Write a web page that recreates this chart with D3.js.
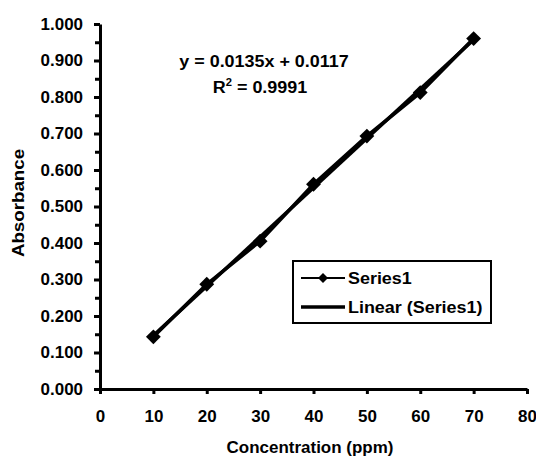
<!DOCTYPE html>
<html>
<head>
<meta charset="utf-8">
<script src="https://cdn.jsdelivr.net/npm/d3@7"></script>
<style>
  body { margin: 0; background: #fff; }
  text { font-family: "Liberation Sans", Arial, sans-serif; font-weight: bold; fill: #000; }
</style>
</head>
<body>
<div class="content"></div>
<script>
////////// data /////////
var concentration = [10, 20, 30, 40, 50, 60, 70];
var absorbance = [0.143, 0.287, 0.405, 0.561, 0.693, 0.812, 0.960];
var xTicks = [0, 10, 20, 30, 40, 50, 60, 70, 80];
var yTicks = [0, 0.1, 0.2, 0.3, 0.4, 0.5, 0.6, 0.7, 0.8, 0.9, 1.0];
var yMinorTicks = [0.05, 0.15, 0.25, 0.35, 0.45, 0.55, 0.65, 0.75, 0.85, 0.95];
var slope = 0.0135;
var intercept = 0.0117;
var rSquared = '0.9991';
var seriesNames = ['Series1', 'Linear (Series1)'];

// text in the picture is a bit wider than the font
function stretch(sel, k) {
  sel.each(function() {
    var w = this.getComputedTextLength();
    d3.select(this)
      .attr('textLength', w * k)
      .attr('lengthAdjust', 'spacingAndGlyphs');
  });
}

var svg = d3.select('.content').append('svg')
  .attr('width', 536)
  .attr('height', 459);

var x = d3.scaleLinear().domain([0, 80]).range([100, 527]);
var y = d3.scaleLinear().domain([0, 1]).range([389, 24]);

////////// axes /////////
var yMinor = svg.append('g')
  .attr('transform', 'translate(' + x(0) + ',0)')
  .call(d3.axisLeft(y).tickValues(yMinorTicks).tickFormat('').tickSize(5));
yMinor.select('.domain').remove();

var yAxis = svg.append('g')
  .attr('transform', 'translate(' + x(0) + ',0)')
  .call(d3.axisLeft(y).tickValues(yTicks).tickFormat(d3.format('.3f')).tickSize(6).tickSizeOuter(0).tickPadding(11));

var xAxis = svg.append('g')
  .attr('transform', 'translate(0,' + y(0) + ')')
  .call(d3.axisBottom(x).tickValues(xTicks).tickSize(5).tickSizeOuter(0).tickPadding(17));

svg.selectAll('.domain').attr('stroke-width', 3);
svg.selectAll('.tick line').attr('stroke-width', 3);
svg.selectAll('.tick text')
  .style('font-size', '16px')
  .style('font-family', '"Liberation Sans", Arial, sans-serif')
  .style('font-weight', 'bold');
stretch(svg.selectAll('.tick text'), 1.06);

svg.append('text')
  .attr('x', 310)
  .attr('y', 453)
  .attr('text-anchor', 'middle')
  .style('font-size', '16px')
  .text('Concentration (ppm)')
  .call(stretch, 1.06);

svg.append('text')
  .attr('transform', 'translate(24,203) rotate(-90)')
  .attr('text-anchor', 'middle')
  .style('font-size', '16px')
  .text('Absorbance')
  .call(stretch, 1.17);

////////// series /////////
var pts = concentration.map(function(c, i) { return [c, absorbance[i]]; });

var line = d3.line()
  .x(function(d) { return x(d[0]); })
  .y(function(d) { return y(d[1]); });

svg.append('path')
  .datum(pts)
  .attr('d', line)
  .attr('fill', 'none')
  .attr('stroke', '#000')
  .attr('stroke-width', 3.5);

var xr = d3.extent(concentration);
svg.append('path')
  .datum(xr.map(function(c) { return [c, slope * c + intercept]; }))
  .attr('d', line)
  .attr('fill', 'none')
  .attr('stroke', '#000')
  .attr('stroke-width', 3.5);

var diamond = d3.symbol().type(d3.symbolSquare).size(110);
svg.selectAll('.marker')
  .data(pts)
  .enter().append('path')
  .attr('class', 'marker')
  .attr('d', diamond)
  .attr('transform', function(d) { return 'translate(' + x(d[0]) + ',' + y(d[1]) + ') rotate(45)'; })
  .attr('fill', '#000');

////////// equation /////////
svg.append('text')
  .attr('x', 264)
  .attr('y', 67)
  .attr('text-anchor', 'middle')
  .style('font-size', '16px')
  .text('y = ' + slope + 'x + ' + intercept)
  .call(stretch, 1.12);

var r2 = svg.append('text')
  .attr('x', 260)
  .attr('y', 93)
  .attr('text-anchor', 'middle')
  .style('font-size', '16px');
r2.append('tspan').text('R');
r2.append('tspan').attr('dy', -7).style('font-size', '10px').text('2');
r2.append('tspan').attr('dy', 7).text(' = ' + rSquared);
stretch(r2, 1.12);

////////// legend /////////
var legend = svg.append('g')
  .attr('transform', 'translate(293,261)');

legend.append('rect')
  .attr('x', 0)
  .attr('y', 0)
  .attr('width', 198)
  .attr('height', 62)
  .attr('fill', '#fff')
  .attr('stroke', '#000')
  .attr('stroke-width', 2);

var rows = legend.selectAll('.row')
  .data(seriesNames)
  .enter().append('g')
  .attr('class', 'row')
  .attr('transform', function(d, i) { return 'translate(0,' + (17 + i * 29) + ')'; });

rows.append('line')
  .attr('x1', 8)
  .attr('x2', 52)
  .attr('stroke', '#000')
  .attr('stroke-width', function(d, i) { return i === 0 ? 2 : 3.5; });

rows.filter(function(d, i) { return i === 0; })
  .append('path')
  .attr('d', d3.symbol().type(d3.symbolSquare).size(50))
  .attr('transform', 'translate(30,0) rotate(45)')
  .attr('fill', '#000');

rows.append('text')
  .attr('x', 55)
  .attr('y', 6)
  .style('font-size', '16px')
  .text(function(d) { return d; })
  .call(stretch, 1.12);
</script>
</body>
</html>
